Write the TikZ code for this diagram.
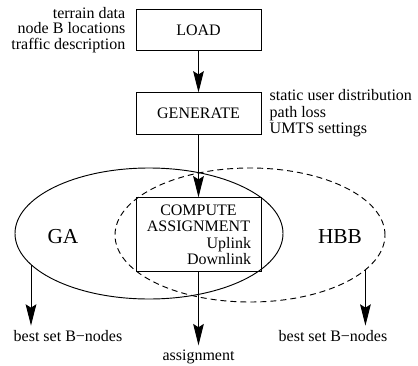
\documentclass[tikz,border=0pt]{standalone}
\usepackage{fontspec}
\setmainfont{Liberation Serif}
\usetikzlibrary{positioning,shapes,arrows.meta}

\begin{document}
\begin{tikzpicture}[x=0.75pt, y=-0.75pt,
    box/.style={draw, line width=0.7pt, rectangle, minimum width=93.75pt, minimum height=31pt, font=\fontsize{12}{14}\selectfont},
    note/.style={inner sep=0pt, font=\fontsize{12}{11.6}\selectfont},
    area/.style={draw, line width=0.7pt, ellipse, inner sep=0pt},
    flow/.style={line width=0.7pt, -{Stealth[length=16pt, width=8pt, inset=2.5pt]}}]
    \useasboundingbox (0,0) rectangle (418,365);

    % the three steps
    \node (load) [box] at (198.5,30) {LOAD};
    \node (gen) [box, below=31pt of load] {GENERATE};
    \node (compute) [box, minimum height=55.5pt, text width=78.75pt, align=center, below=47pt of gen, font=\fontsize{12}{12.2}\selectfont] {COMPUTE\\ASSIGNMENT\\\hfill Uplink\hspace*{3.75pt}\\\hfill Downlink\hspace*{3.75pt}};

    % inputs
    \node (loadin) [note, align=right, left=7.5pt of load] {terrain data\\node B locations\\traffic description};
    \node (genin) [note, align=left, right=6pt of gen, font=\fontsize{12}{12.4}\selectfont] {static user distribution\\path loss\\UMTS settings};

    % the two search methods
    \node (ga) [area, minimum width=201pt, minimum height=98.25pt] at (149,233.5) {};
    \node (hbb) [area, dashed, dash pattern=on 4.5pt off 3pt, minimum width=202.5pt, minimum height=100.5pt] at (250,235) {};
    \node (galbl) [font=\fontsize{16}{18}\selectfont] at (63,237) {GA};
    \node (hbblbl) [font=\fontsize{16}{18}\selectfont] at (340,237) {HBB};

    % results
    \node (bestga) [font=\fontsize{12}{14}\selectfont] at (68,336) {best set B−nodes};
    \node (besthbb) [font=\fontsize{12}{14}\selectfont] at (333,336) {best set B−nodes};
    \node (assign) [font=\fontsize{12}{14}\selectfont] at (198.5,357) {assignment};

    % arrows
    \draw[flow] (load) -- (gen);
    \draw[flow] (gen) -- (compute);
    \draw[flow] (compute) -- (assign);
    \draw[flow] (ga.195.3) -- (ga.195.3 |- bestga.north);
    \draw[flow] (hbb.343) -- (hbb.343 |- besthbb.north);
\end{tikzpicture}
\end{document}
